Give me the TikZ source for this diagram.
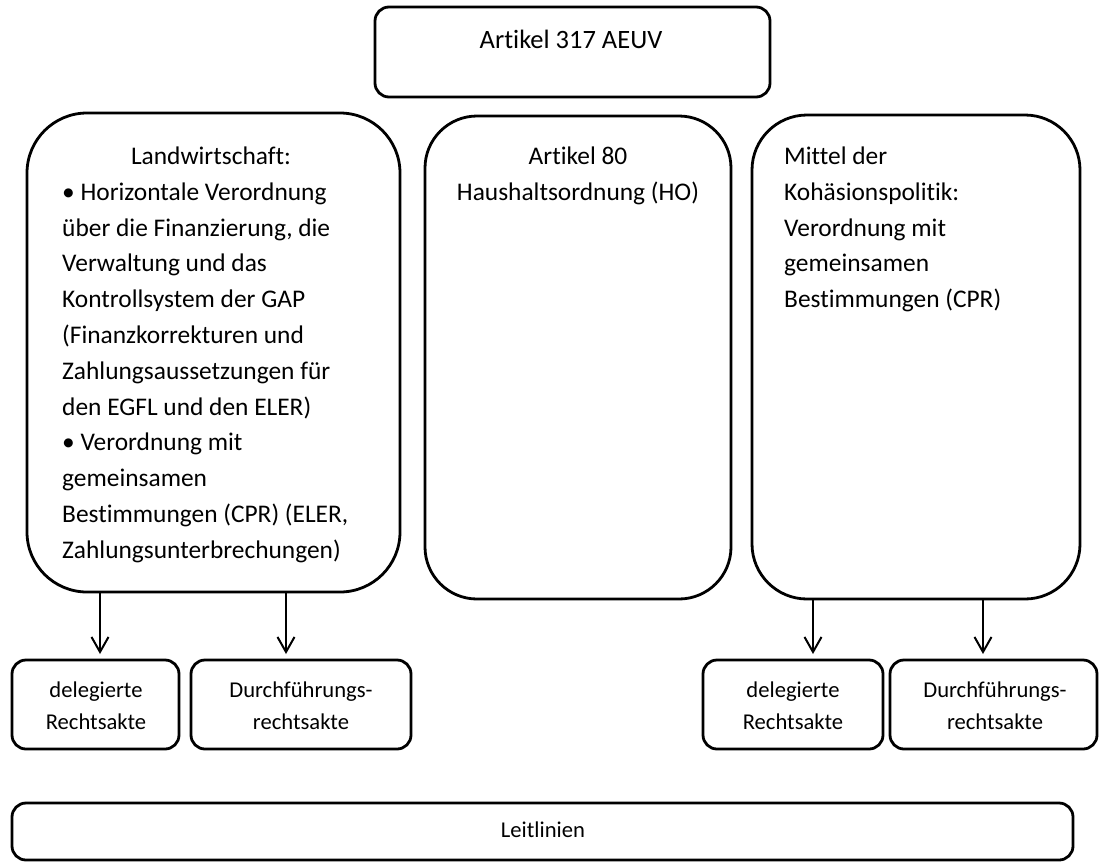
\documentclass[tikz,border=0pt]{standalone}
\usepackage{fontspec}
\setmainfont{Carlito}[Ligatures=NoCommon]
\usetikzlibrary{arrows.meta}
\begin{document}
\begin{tikzpicture}[x=1pt,y=-1pt,
  box/.style={draw,line width=2.8pt,rectangle,inner sep=0pt,outer sep=0pt},
  txt/.style={inner sep=0pt,font=\fontsize{25.4}{35.8}\selectfont},
  ttxt/.style={inner sep=0pt,font=\fontsize{26.5}{35.8}\selectfont},
  stxt/.style={inner sep=0pt,font=\fontsize{22.6}{32}\selectfont},
  arr/.style={line width=2pt,shorten >=6pt,-{Straight Barb[length=15pt,width=17pt,line width=2pt]}}]
\useasboundingbox (0,0) rectangle (1099,863);
% boxes
\node[box,rounded corners=14pt,minimum width=395pt,minimum height=90pt] (top) at (572.5,52) {};
\node[box,rounded corners=60pt,minimum width=373pt,minimum height=479pt] (land) at (213.5,352.5) {};
\node[box,rounded corners=52pt,minimum width=306pt,minimum height=483pt] (ho) at (578,357.5) {};
\node[box,rounded corners=55pt,minimum width=328pt,minimum height=484pt] (koh) at (916,357) {};
\node[box,rounded corners=14pt,minimum width=167pt,minimum height=89pt] (d1) at (95.5,704.5) {};
\node[box,rounded corners=14pt,minimum width=220pt,minimum height=89pt] (r1) at (301,704.5) {};
\node[box,rounded corners=14pt,minimum width=180pt,minimum height=89pt] (d2) at (793,704.5) {};
\node[box,rounded corners=14pt,minimum width=207pt,minimum height=89pt] (r2) at (993.5,704.5) {};
\node[box,rounded corners=14pt,minimum width=1061pt,minimum height=57pt] (leit) at (542.5,831.5) {};
% texts
\node[ttxt,anchor=base] (ttop) at (571,48) {Artikel 317 AEUV};
\node[txt,anchor=base] (tland) at (211,164.4) {Landwirtschaft:};
\foreach \t [count=\i] in {{• Horizontale Verordnung},{über die Finanzierung, die},{Verwaltung und das},{Kontrollsystem der GAP},{(Finanzkorrekturen und},{Zahlungsaussetzungen für},{den EGFL und den ELER)},{• Verordnung mit},{gemeinsamen},{Bestimmungen (CPR) (ELER,},{Zahlungsunterbrechungen)}}
  \node[txt,anchor=base west] (tl\i) at (62,{164.4+35.8*\i}) {\t};
\node[txt,anchor=base] (tho1) at (578,164.4) {Artikel 80};
\node[txt,anchor=base] (tho2) at (578,200.2) {Haushaltsordnung (HO)};
\foreach \t [count=\i] in {{Mittel der},{Kohäsionspolitik:},{Verordnung mit},{gemeinsamen},{Bestimmungen (CPR)}}
  \node[txt,anchor=base west] (tk\i) at (784,{164.4+35.8*(\i-1)}) {\t};
\node[stxt,anchor=base] (td1a) at (96,697) {delegierte};
\node[stxt,anchor=base] (td1b) at (96,729) {Rechtsakte};
\node[stxt,anchor=base] (tr1a) at (301,697) {Durchführungs-};
\node[stxt,anchor=base] (tr1b) at (301,729) {rechtsakte};
\node[stxt,anchor=base] (td2a) at (793,697) {delegierte};
\node[stxt,anchor=base] (td2b) at (793,729) {Rechtsakte};
\node[stxt,anchor=base] (tr2a) at (995,697) {Durchführungs-};
\node[stxt,anchor=base] (tr2b) at (995,729) {rechtsakte};
\node[stxt,anchor=base] (tleit) at (543,837) {Leitlinien};
% arrows
\coordinate (ax1) at (100,0);
\coordinate (ax2) at (286,0);
\coordinate (ax3) at (813,0);
\coordinate (ax4) at (983,0);
\draw[arr] (ax1 |- land.south) -- (ax1 |- d1.north);
\draw[arr] (ax2 |- land.south) -- (ax2 |- r1.north);
\draw[arr] (ax3 |- koh.south) -- (ax3 |- d2.north);
\draw[arr] (ax4 |- koh.south) -- (ax4 |- r2.north);
\end{tikzpicture}
\end{document}
